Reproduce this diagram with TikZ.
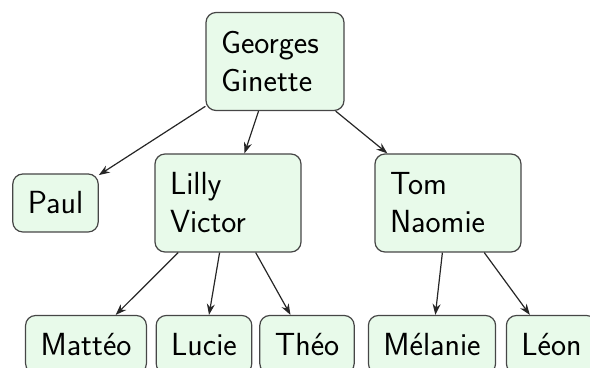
\documentclass[tikz,border=0pt]{standalone}
\usetikzlibrary{arrows.meta}
\definecolor{boxfill}{RGB}{232,250,234}
\definecolor{boxline}{RGB}{70,70,70}
\begin{document}
\begin{tikzpicture}[x=0.5pt,y=-0.5pt,
  every node/.style={font=\sffamily\fontsize{16}{19}\selectfont},
  person/.style={draw=boxline,line width=0.6pt,fill=boxfill,rounded corners=5pt,
    inner xsep=7.5pt,inner ysep=0pt,minimum height=29pt},
  couple/.style={person,text width=#1,align=left,minimum height=49pt},
  link/.style={-{Stealth[length=5.5pt,width=4pt]},line width=0.6pt,black!85}]
\useasboundingbox (0,0) rectangle (590,368);
% generation 1
\node[couple=54pt] (gg) at (275,61.5) {Georges\\Ginette};
% generation 2
\node[person] (paul) at (55.5,203) {Paul};
\node[couple=58pt] (lv) at (228,203) {Lilly\\Victor};
\node[couple=58pt] (tn) at (448,203) {Tom\\Naomie};
% generation 3
\node[person] (matteo) at (86,344.5) {Mattéo};
\node[person] (lucie) at (204,344.5) {Lucie};
\node[person] (theo) at (307,344.5) {Théo};
\node[person] (melanie) at (432,344.5) {Mélanie};
\node[person] (leon) at (551.5,344.5) {Léon};
% parent-child links
\draw[link] (gg) -- (paul);
\draw[link] (gg) -- (lv);
\draw[link] (gg) -- (tn);
\draw[link] (lv) -- (matteo);
\draw[link] (lv) -- (lucie);
\draw[link] (lv) -- (theo);
\draw[link] (tn) -- (melanie);
\draw[link] (tn) -- (leon);
\end{tikzpicture}
\end{document}
